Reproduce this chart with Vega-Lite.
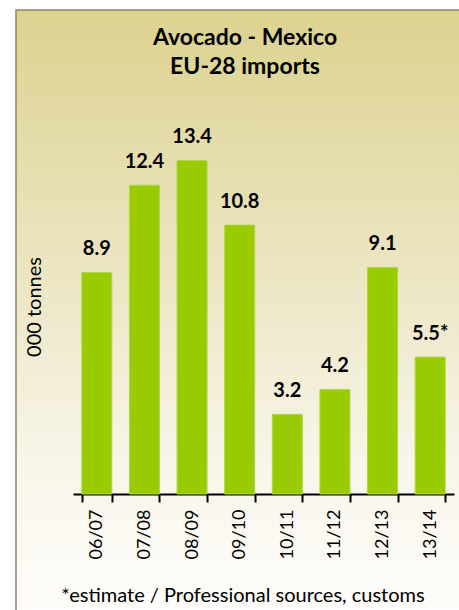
{
  "$schema": "https://vega.github.io/schema/vega-lite/v6.json",
  "width": 444,
  "height": 601,
  "autosize": {"type": "none"},
  "padding": {"left": 16, "top": 10, "right": 0, "bottom": 0},
  "background": "#ffffff",
  "view": {
    "fill": {
      "gradient": "linear",
      "x1": 0, "y1": 0, "x2": 0, "y2": 1,
      "stops": [
        {"offset": 0, "color": "#dcd28f"},
        {"offset": 0.45, "color": "#ece6c4"},
        {"offset": 0.75, "color": "#f8f5e9"},
        {"offset": 1, "color": "#fefdfb"}
      ]
    },
    "stroke": "#8c8463",
    "strokeWidth": 1.5
  },
  "title": {
    "text": ["Avocado - Mexico", "EU-28 imports"],
    "font": "Lato",
    "fontSize": 23,
    "fontWeight": "bold",
    "color": "#000000",
    "anchor": "middle",
    "dx": 7,
    "offset": -69,
    "baseline": "top",
    "lineHeight": 29
  },
  "data": {
    "values": [
      {"season": "06/07", "value": 8.9, "label": "8.9"},
      {"season": "07/08", "value": 12.4, "label": "12.4"},
      {"season": "08/09", "value": 13.4, "label": "13.4"},
      {"season": "09/10", "value": 10.8, "label": "10.8"},
      {"season": "10/11", "value": 3.2, "label": "3.2"},
      {"season": "11/12", "value": 4.2, "label": "4.2"},
      {"season": "12/13", "value": 9.1, "label": "9.1"},
      {"season": "13/14", "value": 5.5, "label": "5.5*"}
    ]
  },
  "encoding": {
    "x": {
      "field": "season",
      "type": "nominal",
      "sort": null,
      "scale": {"range": [57, 438], "paddingInner": 0.37, "paddingOuter": 0.185},
      "axis": {
        "title": "*estimate / Professional sources, customs",
        "offset": -117,
        "labelAngle": -90,
        "labelFont": "Lato",
        "labelFontSize": 18,
        "labelColor": "#000000",
        "labelPadding": 7,
        "tickBand": "extent",
        "tickSize": 8,
        "tickWidth": 2,
        "tickColor": "#000000",
        "domainColor": "#000000",
        "domainWidth": 2,
        "grid": false,
        "titleX": 226.5,
        "titleY": 107,
        "titleAlign": "center",
        "titleBaseline": "alphabetic",
        "titleFont": "Lato",
        "titleFontSize": 20,
        "titleFontWeight": "normal",
        "titleColor": "#000000"
      }
    },
    "y": {
      "field": "value",
      "type": "quantitative",
      "scale": {"domain": [0, 19.44], "range": [484, 0], "nice": false, "zero": false},
      "axis": {
        "title": "000 tonnes",
        "labels": false,
        "ticks": false,
        "domain": false,
        "grid": false,
        "titleAngle": -90,
        "titleX": 24,
        "titleY": 296.5,
        "titleAlign": "center",
        "titleBaseline": "alphabetic",
        "titleFont": "Lato",
        "titleFontSize": 20,
        "titleFontWeight": "normal",
        "titleColor": "#000000"
      }
    }
  },
  "layer": [
    {
      "mark": {"type": "bar", "color": "#99cc00", "stroke": "#b0d64c", "strokeWidth": 1},
      "encoding": {"y2": {"datum": 0}}
    },
    {
      "mark": {
        "type": "text",
        "font": "Lato",
        "fontSize": 20,
        "fontWeight": "bold",
        "baseline": "alphabetic",
        "dy": -17,
        "color": "#000000"
      },
      "encoding": {"text": {"field": "label"}}
    }
  ]
}
